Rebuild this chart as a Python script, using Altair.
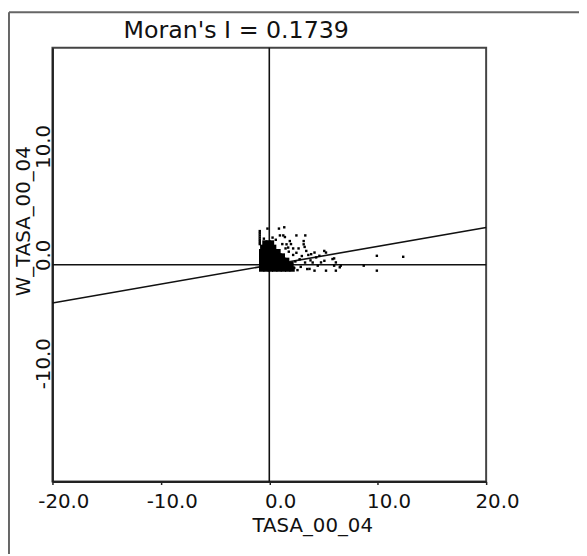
import altair as alt
import pandas as pd

FONT = "DejaVu Sans"

title_text = "Moran's I = 0.1739"
x_title = "TASA_00_04"
y_title = "W_TASA_00_04"
x_ticks = [-20, -10, 0, 10, 20]
y_ticks = [-10, 0, 10]

# dense core of the point cloud (heavily overplotted area)
core_x = [-0.7, -0.3, 0.1, 0.5, 0.9, 1.3, 1.7, 2.1,
          -0.7, -0.3, 0.1, 0.5, 0.9, 1.3, 1.7, 2.0,
          -0.7, -0.3, 0.1, 0.5, 0.9, 1.3, 1.6,
          -0.7, -0.3, 0.1, 0.5, 0.9, 1.2,
          -0.7, -0.3, 0.1, 0.5, 0.8,
          -0.6, -0.3, 0.1, 0.4,
          -0.4, -0.1, 0.2]
core_y = [-0.4, -0.4, -0.4, -0.4, -0.4, -0.4, -0.4, -0.4,
          0.0, 0.0, 0.0, 0.0, 0.0, 0.0, 0.0, 0.0,
          0.4, 0.4, 0.4, 0.4, 0.4, 0.4, 0.4,
          0.8, 0.8, 0.8, 0.8, 0.8, 0.8,
          1.2, 1.2, 1.2, 1.2, 1.2,
          1.6, 1.6, 1.6, 1.6,
          2.0, 2.0, 2.0]

# individual scattered points
pts_x = [-0.88, -0.88, -0.88, -0.88, -0.88, -0.88, -0.88,
         -0.17, 0.89, 1.38, 0.98, 1.29, 1.44, 2.5, 3.32, 1.89, 3.17, 3.17, 3.26,
         1.59, 1.74, 3.41, 3.86, 4.17, 4.32, 4.62, 5.23, 5.08, 5.83, 6.14, 5.98,
         5.23, 6.14, 6.59, 8.71, 9.92, 9.92, 12.35, 4.17, 3.71, 5.98, 6.5, 5.07,
         4.77, 4.47,
         1.8, 2.2, 2.5, 2.8, 2.4, 3.0, 3.3, 2.9, 3.5, 2.6, 3.8, 2.2, 1.5, 1.2,
         0.6, 0.3, -0.5, 2.0, 2.7, 3.6, 4.0, 2.3]
pts_y = [1.9, 2.1, 2.3, 2.5, 2.7, 2.9, 3.1,
         3.33, 3.33, 3.45, 2.7, 2.7, 2.55, 2.7, 2.7, 2.18, 2.18, 1.88, 1.64,
         1.88, 1.58, 1.27, 0.97, 1.12, 0.67, 0.82, 1.12, 0.36, 0.52, 0.21, -0.09,
         -0.55, -0.55, -0.09, -0.09, 0.82, -0.55, 0.73, -0.55, -0.39, 0.58, -0.24, 1.27,
         0.21, -0.09,
         1.2, 0.9, 1.1, 0.5, 0.3, 0.8, 0.2, -0.2, -0.4, -0.5, 0.4, 1.5, 1.5, 1.9,
         2.3, 2.5, 2.4, 1.9, 1.5, 0.9, 0.2, -0.3]

# regression line end points (slope = Moran's I)
line_x = [-20, 20]
line_y = [-3.53, 3.43]

core_df = pd.DataFrame({"x": core_x, "y": core_y})
pts_df = pd.DataFrame({"x": pts_x, "y": pts_y})
line_df = pd.DataFrame({"x": line_x, "y": line_y})
title_df = pd.DataFrame({"t": [title_text]})

xscale = alt.Scale(domain=[-20, 20], nice=False, zero=False)
yscale = alt.Scale(domain=[-20, 20], nice=False, zero=False)

LABEL_EXPR = "datum.value < 0 ? '-' + format(abs(datum.value), '.1f') : format(datum.value, '.1f')"

X = alt.X("x:Q", scale=xscale,
          axis=alt.Axis(values=x_ticks, labelExpr=LABEL_EXPR, title=x_title, grid=False,
                        tickSize=3, labelPadding=23, labelBaseline="alphabetic",
                        labelAlign="center", labelOffset=11, labelFlush=False,
                        labelOverlap=False, titleX=263, titleY=51,
                        titleBaseline="alphabetic", titleAlign="center"))
Y = alt.Y("y:Q", scale=yscale,
          axis=alt.Axis(values=y_ticks, labelExpr=LABEL_EXPR, title=y_title, grid=False,
                        tickSize=0, labelAngle=270, labelAlign="center",
                        labelBaseline="alphabetic", labelPadding=3, labelOffset=-10,
                        labelFlush=False, labelOverlap=False,
                        titleAngle=270, titleX=-23, titleY=175,
                        titleBaseline="alphabetic", titleAlign="center"))

frame_left = alt.Chart(title_df).mark_rule(color="#666", strokeWidth=2).encode(
    x=alt.value(-44), y=alt.value(-36), y2=alt.value(520))
frame_top = alt.Chart(title_df).mark_rule(color="#666", strokeWidth=2).encode(
    x=alt.value(-44), x2=alt.value(540), y=alt.value(-36))

zero_v = alt.Chart(title_df).mark_rule(color="#111", strokeWidth=1.6).encode(
    x=alt.datum(0, scale=xscale))
zero_h = alt.Chart(title_df).mark_rule(color="#111", strokeWidth=1.6).encode(
    y=alt.datum(0, scale=yscale))

reg = alt.Chart(line_df).mark_line(color="#111", strokeWidth=1.6).encode(x=X, y=Y)

core = alt.Chart(core_df).mark_square(color="#000", size=30, opacity=1).encode(x=X, y=Y)
pts = alt.Chart(pts_df).mark_square(color="#000", size=6, opacity=1).encode(x=X, y=Y)

title_mark = alt.Chart(title_df).mark_text(
    font=FONT, fontSize=24, color="#111", align="center", baseline="alphabetic"
).encode(text="t:N", x=alt.value(186), y=alt.value(-10))

chart = alt.layer(frame_left, frame_top, zero_v, zero_h, reg, core, pts, title_mark).properties(
    width=439, height=439,
    padding={"left": 45, "top": 37, "right": 94, "bottom": 70},
    autosize=alt.AutoSizeParams(type="none"),
).configure_view(
    stroke="#444", strokeWidth=2
).configure_axis(
    labelFont=FONT, labelFontSize=20, labelColor="#111",
    titleFont=FONT, titleFontSize=20, titleColor="#111", titleFontWeight="normal",
    domainColor="#222", domainWidth=2, tickColor="#222", tickWidth=1.5,
)

chart.save("out.html", embed_options={"renderer": "svg", "actions": False})
